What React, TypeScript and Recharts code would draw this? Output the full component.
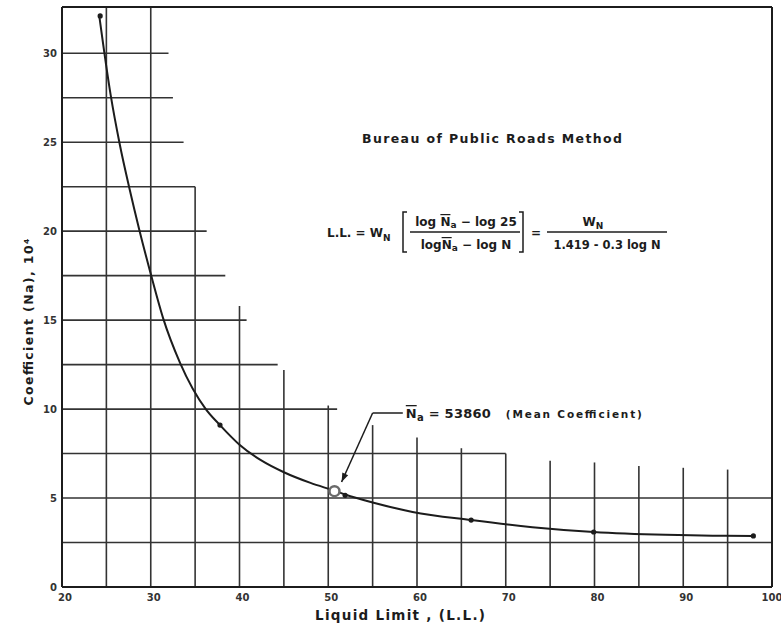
import React from "react";
import {
  ComposedChart,
  Line,
  Scatter,
  XAxis,
  YAxis,
  ReferenceLine,
  ReferenceDot,
} from "recharts";

// curve: Liquid Limit vs Coefficient (Na), 10^4
const curveLL = [24.2, 25.5, 26.5, 27.6, 28.7, 30, 31.4, 33.3, 36.2, 37.8, 40, 42.5, 45, 48, 50.7, 51.9, 55, 59.5, 66.1, 73, 79.9, 88, 93.3, 97.9];
const curveNa = [32.1, 27.6, 24.9, 22.4, 20.1, 17.6, 15.1, 12.6, 10.0, 9.1, 8.0, 7.1, 6.45, 5.85, 5.41, 5.2, 4.75, 4.22, 3.76, 3.36, 3.09, 2.93, 2.88, 2.87];

// plotted test points
const pointLL = [24.3, 37.8, 51.9, 66.1, 79.9, 97.9];
const pointNa = [32.1, 9.1, 5.15, 3.76, 3.09, 2.87];

// mean coefficient
const meanLL = 50.7;
const meanNa = 5.386;
const meanLabel = "53860";

const llTicks = [20, 30, 40, 50, 60, 70, 80, 90, 100];
const naTicks = [0, 5, 10, 15, 20, 25, 30];
const naTop = 32.6;

// stepped grid: horizontal lines stop at gridYEnd, vertical lines stop at gridXTop
const gridY = [2.5, 5, 7.5, 10, 12.5, 15, 17.5, 20, 22.5, 25, 27.5, 30];
const gridYEnd = [100, 100, 70, 51, 44.3, 40.8, 38.4, 36.3, 35, 33.7, 32.5, 32];
const gridX = [25, 30, 35, 40, 45, 50, 55, 60, 65, 70, 75, 80, 85, 90, 95];
const gridXTop = [32.6, 32.6, 22.5, 15.8, 12.2, 10.2, 9.1, 8.4, 7.8, 7.5, 7.1, 7.0, 6.8, 6.7, 6.6];

// leader of the mean note (label end -> elbow -> arrow tip)
const leaderLL = [58.4, 55.0, 51.5];
const leaderNa = [9.78, 9.78, 5.9];

const curve = curveLL.map((ll, i) => ({ ll, na: curveNa[i] }));
const points = pointLL.map((ll, i) => ({ ll, na: pointNa[i] }));

const FONT = "'DejaVu Sans', sans-serif";
const INK = "#1c1c1c";
const GRID = "#333";

const dotShape = (p: any) => <circle cx={p.cx} cy={p.cy} r={2.6} fill={INK} />;

const meanShape = (p: any) => (
  <circle cx={p.cx} cy={p.cy} r={5} fill="#fff" stroke="#6a6a6a" strokeWidth={2.5} />
);

const arrowShape = (p: any) => {
  const ux = -0.41, uy = 0.91; // direction of the leader
  const bx = p.cx - ux * 9, by = p.cy - uy * 9;
  const nx = -uy * 3.2, ny = ux * 3.2;
  return (
    <polygon
      points={`${p.cx},${p.cy} ${bx + nx},${by + ny} ${bx - nx},${by - ny}`}
      fill={INK}
    />
  );
};

const noteShape = (p: any) => (
  <g fontFamily={FONT} fontWeight="bold" fill={INK}>
    <text x={p.cx + 3} y={p.cy + 5} fontSize={13} textLength={85} lengthAdjust="spacing">
      <tspan style={{ textDecoration: "overline" }}>N</tspan>
      <tspan fontSize={10} dy={3}>a</tspan>
      <tspan dy={-3}> = {meanLabel}</tspan>
    </text>
    <text x={p.cx + 103} y={p.cy + 5} fontSize={10.5} textLength={136} lengthAdjust="spacing">
      (Mean Coefficient)
    </text>
  </g>
);

const xTick = (p: any) => (
  <text
    x={p.x + 3}
    y={p.y + 9}
    textAnchor="middle"
    fontSize={10}
    fontWeight="bold"
    fill="#333"
    fontFamily={FONT}
  >
    {p.payload.value}
  </text>
);

export default function App() {
  return (
    <div style={{ position: "absolute", left: 0, top: 0, width: 781, height: 625, background: "#fff" }}>
      <ComposedChart width={781} height={625} margin={{ top: 7, right: 9, bottom: 0, left: 0 }}>
        <XAxis
          type="number"
          dataKey="ll"
          domain={[20, 100]}
          ticks={llTicks}
          height={38}
          tickLine={false}
          tickSize={0}
          tickMargin={5}
          axisLine={{ stroke: INK, strokeWidth: 2 }}
          tick={xTick}
          allowDataOverflow
        />
        <YAxis
          type="number"
          dataKey="na"
          domain={[0, naTop]}
          ticks={naTicks}
          width={62}
          tickLine={false}
          tickSize={0}
          tickMargin={5}
          axisLine={{ stroke: INK, strokeWidth: 2 }}
          tick={{ fontSize: 10, fontWeight: "bold", fill: "#333", fontFamily: FONT }}
          allowDataOverflow
        />

        {/* stepped grid */}
        {gridY.map((y, i) => (
          <ReferenceLine
            key={"h" + y}
            segment={[{ x: 20, y }, { x: gridYEnd[i], y }]}
            stroke={GRID}
            strokeWidth={1.6}
          />
        ))}
        {gridX.map((x, i) => (
          <ReferenceLine
            key={"v" + x}
            segment={[{ x, y: 0 }, { x, y: gridXTop[i] }]}
            stroke={GRID}
            strokeWidth={1.6}
          />
        ))}

        {/* frame top / right */}
        <ReferenceLine y={naTop} stroke={INK} strokeWidth={2} />
        <ReferenceLine x={100} stroke={INK} strokeWidth={2} />

        <Line
          data={curve}
          type="monotone"
          dataKey="na"
          stroke={INK}
          strokeWidth={2}
          dot={false}
          isAnimationActive={false}
        />
        <Scatter data={points} dataKey="na" shape={dotShape} isAnimationActive={false} />

        {/* mean coefficient note */}
        <ReferenceLine
          segment={[{ x: leaderLL[0], y: leaderNa[0] }, { x: leaderLL[1], y: leaderNa[1] }]}
          stroke={INK}
          strokeWidth={1.5}
        />
        <ReferenceLine
          segment={[{ x: leaderLL[1], y: leaderNa[1] }, { x: leaderLL[2], y: leaderNa[2] }]}
          stroke={INK}
          strokeWidth={1.5}
        />
        <ReferenceDot x={meanLL} y={meanNa} shape={meanShape} />
        <ReferenceDot x={leaderLL[2]} y={leaderNa[2]} shape={arrowShape} />
        <ReferenceDot x={leaderLL[0]} y={leaderNa[0]} shape={noteShape} />
      </ComposedChart>

      {/* title, formula and axis titles */}
      <svg
        width={781}
        height={625}
        style={{ position: "absolute", left: 0, top: 0, pointerEvents: "none" }}
        fontFamily={FONT}
        fontWeight="bold"
        fill={INK}
      >
        <text x={362} y={143} fontSize={12.5} textLength={260} lengthAdjust="spacing">
          Bureau of Public Roads Method
        </text>

        <text x={327} y={237} fontSize={12}>
          L.L. = W<tspan fontSize={9} dy={4}>N</tspan>
        </text>
        <path d="M407,212 h-4 v40 h4" fill="none" stroke={INK} strokeWidth={1.5} />
        <path d="M519,212 h4 v40 h-4" fill="none" stroke={INK} strokeWidth={1.5} />
        <text x={466} y={226} fontSize={12} textAnchor="middle">
          log <tspan style={{ textDecoration: "overline" }}>N</tspan>
          <tspan fontSize={9} dy={2}>a</tspan>
          <tspan dy={-2}> − log 25</tspan>
        </text>
        <line x1={410} x2={520} y1={232} y2={232} stroke={INK} strokeWidth={1.4} />
        <text x={466} y={249} fontSize={12} textAnchor="middle">
          log<tspan style={{ textDecoration: "overline" }}>N</tspan>
          <tspan fontSize={9} dy={2}>a</tspan>
          <tspan dy={-2}> − log N</tspan>
        </text>
        <text x={531} y={237} fontSize={12}>=</text>
        <text x={593} y={226} fontSize={12} textAnchor="middle">
          W<tspan fontSize={9} dy={3}>N</tspan>
        </text>
        <line x1={547} x2={667} y1={232} y2={232} stroke={INK} strokeWidth={1.4} />
        <text x={607} y={249} fontSize={11.5} textAnchor="middle">
          1.419 - 0.3 log N
        </text>

        <text x={400} y={620} fontSize={13.5} textAnchor="middle" textLength={170} lengthAdjust="spacing">
          Liquid Limit ,  (L.L.)
        </text>
        <text
          x={0}
          y={0}
          fontSize={12.5}
          textAnchor="middle"
          textLength={167}
          lengthAdjust="spacing"
          transform="translate(33,322) rotate(-90)"
        >
          Coefficient (Na), 10⁴
        </text>
      </svg>
    </div>
  );
}
